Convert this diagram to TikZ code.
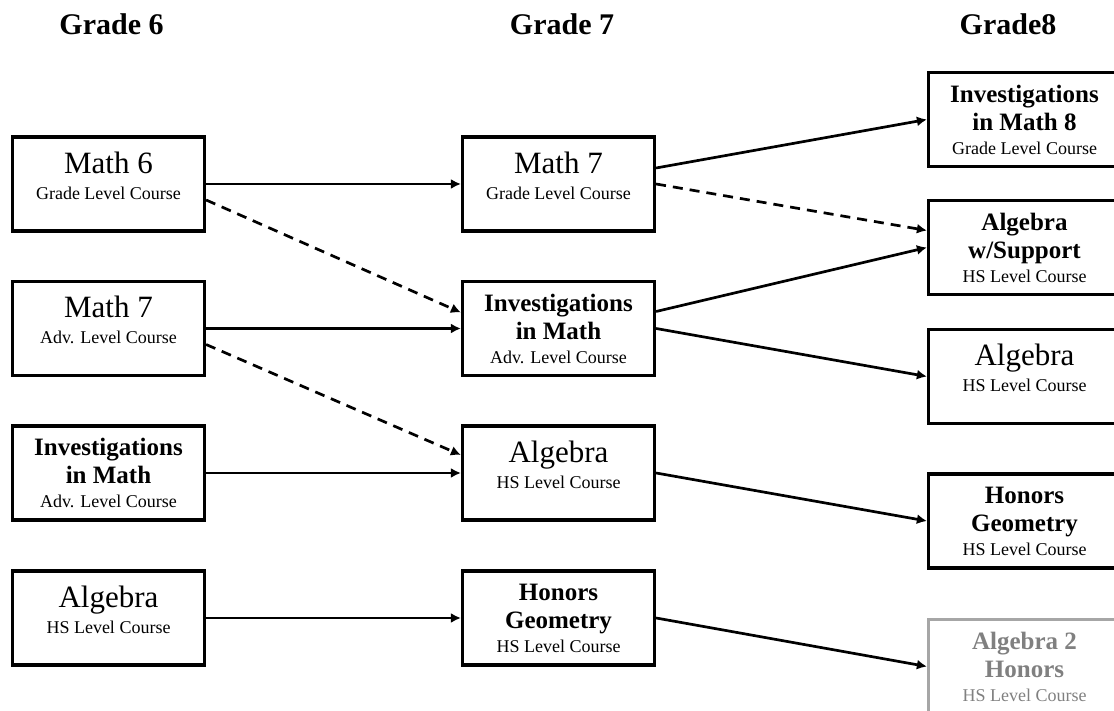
\documentclass[tikz,border=0pt]{standalone}
\usepackage{fontspec}
\setmainfont{Liberation Serif}
\usetikzlibrary{arrows.meta}

\newcommand{\ctitle}[1]{{\fontsize{31}{26}\selectfont #1}}
\newcommand{\btitle}[1]{{\bfseries\fontsize{25}{26}\selectfont #1}}

\begin{document}
\begin{tikzpicture}[x=1pt, y=1pt,
    course/.style={draw, line width=3.2pt, minimum width=192pt, minimum height=94pt,
        align=center, font=\fontsize{18}{26}\selectfont},
    short/.style={course, text depth=17pt},
    faded/.style={draw=black!35, text=black!50},
    link/.style={line width=2.7pt, -{Latex[length=10pt, width=10pt]}},
    maybe/.style={link, dash pattern=on 10pt off 7pt}]
    \path[use as bounding box, clip] (0, 0) rectangle (1114, 711);

    \foreach \g/\x/\t in {g6/111.5/Grade 6, g7/562/Grade 7, g8/1008/Grade8} {
        \node[font=\bfseries\fontsize{30}{30}\selectfont, anchor=base] (\g) at (\x, 676) {\t};
    }

    \node[short] (m6) at (108.5, 527) {\ctitle{Math 6}\\Grade Level Course};
    \node[short] (m7a) at (108.5, 382.5) {\ctitle{Math 7}\\Adv. Level Course};
    \node[course] (i6) at (108.5, 238) {\btitle{Investigations}\\[2pt]\btitle{in Math}\\[-2pt]Adv. Level Course};
    \node[short] (al6) at (108.5, 93) {\ctitle{Algebra}\\HS Level Course};

    \node[short] (m7b) at (558.5, 527) {\ctitle{Math 7}\\Grade Level Course};
    \node[course] (i7) at (558.5, 382.5) {\btitle{Investigations}\\[2pt]\btitle{in Math}\\[-2pt]Adv. Level Course};
    \node[short] (al7) at (558.5, 238) {\ctitle{Algebra}\\HS Level Course};
    \node[course] (hg7) at (558.5, 93) {\btitle{Honors}\\[2pt]\btitle{Geometry}\\[-2pt]HS Level Course};

    \node[course] (i8) at (1024.5, 591.5) {\btitle{Investigations}\\[2pt]\btitle{in Math 8}\\[-2pt]Grade Level Course};
    \node[course] (as8) at (1024.5, 463.5) {\btitle{Algebra}\\[2pt]\btitle{w/Support}\\[-2pt]HS Level Course};
    \node[short] (al8) at (1024.5, 334.5) {\ctitle{Algebra}\\HS Level Course};
    \node[course] (hg8) at (1024.5, 190) {\btitle{Honors}\\[2pt]\btitle{Geometry}\\[-2pt]HS Level Course};
    \node[course, faded] (a2h8) at (1024.5, 44.5) {\btitle{Algebra 2}\\[2pt]\btitle{Honors}\\[-2pt]HS Level Course};

    \draw[link] (m6.east) -- (m7b.west);
    \draw[maybe] ([yshift=-16pt]m6.east) -- ([yshift=16pt]i7.west);
    \draw[link] (m7a.east) -- (i7.west);
    \draw[maybe] ([yshift=-16pt]m7a.east) -- ([yshift=18pt]al7.west);
    \draw[link] (i6.east) -- (al7.west);
    \draw[link] (al6.east) -- (hg7.west);

    \draw[link] ([yshift=16pt]m7b.east) -- (i8.west);
    \draw[maybe] (m7b.east) -- ([yshift=17pt]as8.west);
    \draw[link] ([yshift=17pt]i7.east) -- (as8.west);
    \draw[link] (i7.east) -- (al8.west);
    \draw[link] (al7.east) -- (hg8.west);
    \draw[link] (hg7.east) -- (a2h8.west);
\end{tikzpicture}
\end{document}
